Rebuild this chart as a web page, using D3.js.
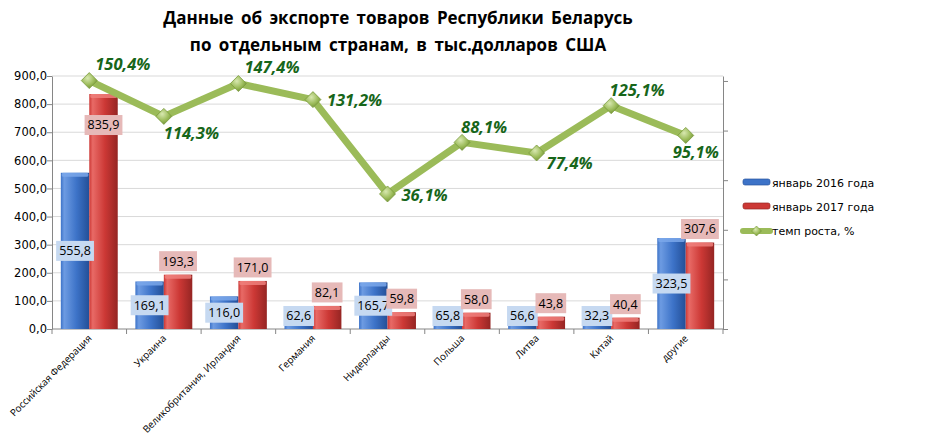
<!DOCTYPE html>
<html>
<head>
<meta charset="utf-8">
<script src="https://cdn.jsdelivr.net/npm/d3@7"></script>
<style>
  body { margin: 0; background: #fff; }
  svg { display: block; }
</style>
</head>
<body>
<div id="chart"></div>
<script>
// data
const countries = ["Российская Федерация", "Украина", "Великобритания, Ирландия", "Германия",
  "Нидерланды", "Польша", "Литва", "Китай", "другие"];
const jan2016 = [555.8, 169.1, 116.0, 62.6, 165.7, 65.8, 56.6, 32.3, 323.5];
const jan2017 = [835.9, 193.3, 171.0, 82.1, 59.8, 58.0, 43.8, 40.4, 307.6];
const growth = [150.4, 114.3, 147.4, 131.2, 36.1, 88.1, 77.4, 125.1, 95.1];
const seriesNames = ["январь 2016 года", "январь 2017 года", "темп роста, %"];
const leftTicks = [0, 100, 200, 300, 400, 500, 600, 700, 800, 900];
const rightTicks = [-100, -50, 0, 50, 100, 150];
// where each growth label sits relative to its marker
const labelPlace = ["aboveRight", "below", "aboveRight", "right", "right", "above", "belowRight", "above", "below"];

let width = 935, height = 442;
let margin = {top: 76, left: 52, right: 212, bottom: 113};
let plotW = width - margin.left - margin.right,
    plotH = height - margin.top - margin.bottom;

let svg = d3.select("#chart").append("svg")
    .attr("width", width)
    .attr("height", height);

let fmt = v => d3.format(".1f")(v).replace(".", ",");

// gradients for the bevelled bars
let defs = svg.append("defs");
function barGrad(id, light, mid, dark) {
    let g = defs.append("linearGradient").attr("id", id).attr("x1", 0).attr("x2", 1).attr("y1", 0).attr("y2", 0);
    g.append("stop").attr("offset", "0%").attr("stop-color", mid);
    g.append("stop").attr("offset", "12%").attr("stop-color", light);
    g.append("stop").attr("offset", "55%").attr("stop-color", mid);
    g.append("stop").attr("offset", "100%").attr("stop-color", dark);
}
barGrad("gBlue", "#6d9be2", "#3d73c8", "#234f97");
barGrad("gRed", "#e86a66", "#cc3835", "#952523");
let mg = defs.append("radialGradient").attr("id", "gMark").attr("cx", "40%").attr("cy", "35%").attr("r", "70%");
mg.append("stop").attr("offset", "0%").attr("stop-color", "#d8e8b0");
mg.append("stop").attr("offset", "60%").attr("stop-color", "#9bbb59");
mg.append("stop").attr("offset", "100%").attr("stop-color", "#6f8e35");

let g = svg.append("g").attr("transform", "translate(" + margin.left + "," + margin.top + ")");

let x = d3.scaleBand().domain(countries).range([0, plotW]);
let inner = d3.scaleBand().domain([0, 1]).range([0, x.bandwidth()]).paddingInner(0).paddingOuter(0.31);
let y = d3.scaleLinear().domain([0, 900]).range([plotH, 0]);
let y2 = d3.scaleLinear().domain([-100, 155]).range([plotH, 0]);

// gridlines
g.append("g").selectAll("line").data(leftTicks.slice(1)).join("line")
    .attr("x1", 0).attr("x2", plotW)
    .attr("y1", d => y(d)).attr("y2", d => y(d))
    .attr("stroke", "#d9d9d9").attr("stroke-width", 1);

// left axis
let yAxis = g.append("g")
    .call(d3.axisLeft(y).tickValues(leftTicks).tickFormat(fmt).tickSize(5).tickSizeOuter(0));
yAxis.select(".domain").attr("stroke", "#868686");
yAxis.selectAll(".tick line").attr("stroke", "#868686");
yAxis.selectAll("text").attr("font-family", "DejaVu Sans").attr("font-size", 11.5).attr("fill", "#000").attr("x", -5);

// right axis, no labels
let y2Axis = g.append("g").attr("transform", "translate(" + plotW + ",0)")
    .call(d3.axisRight(y2).tickValues(rightTicks).tickFormat("").tickSize(5).tickSizeOuter(0));
y2Axis.select(".domain").attr("stroke", "#868686");
y2Axis.selectAll(".tick line").attr("stroke", "#868686");

// bottom axis with ticks at category boundaries
g.append("line").attr("x1", 0).attr("x2", plotW).attr("y1", plotH).attr("y2", plotH).attr("stroke", "#868686");
g.append("g").selectAll("line").data(d3.range(countries.length + 1)).join("line")
    .attr("x1", i => i * x.step()).attr("x2", i => i * x.step())
    .attr("y1", plotH).attr("y2", plotH + 5)
    .attr("stroke", "#868686");
g.append("g").selectAll("text").data(countries).join("text")
    .attr("transform", d => "translate(" + (x(d) + x.bandwidth() / 2 + 3) + "," + (plotH + 10) + ") rotate(-45)")
    .attr("text-anchor", "end")
    .attr("font-family", "Open Sans").attr("font-size", 9.8)
    .attr("fill", "#000")
    .text(d => d);

// bars
let series = [
    {vals: jan2016, fill: "url(#gBlue)", cap: "#7aa7ea", idx: 0},
    {vals: jan2017, fill: "url(#gRed)", cap: "#ef7f7b", idx: 1}
];
series.forEach(s => {
    let bg = g.append("g");
    let bars = bg.selectAll("g").data(s.vals.map((v, i) => ({v, c: countries[i]}))).join("g")
        .attr("transform", d => "translate(" + (x(d.c) + inner(s.idx)) + ",0)");
    bars.append("rect")
        .attr("x", 0).attr("width", inner.bandwidth())
        .attr("y", d => y(d.v)).attr("height", d => plotH - y(d.v))
        .attr("fill", s.fill);
    bars.append("rect")
        .attr("x", 1).attr("width", inner.bandwidth() - 2)
        .attr("y", d => y(d.v)).attr("height", 4)
        .attr("rx", 1.5)
        .attr("fill", s.cap).attr("opacity", 0.85);
});

// bar data labels
function boxLabel(parent, cx, cy, text, bg) {
    let lg = parent.append("g");
    let t = lg.append("text")
        .attr("x", cx).attr("y", cy)
        .attr("text-anchor", "middle").attr("dy", "0.35em")
        .attr("font-family", "Open Sans").attr("font-size", 12.5)
        .attr("fill", "#000")
        .text(text);
    let b = t.node().getBBox();
    lg.insert("rect", "text")
        .attr("x", b.x - 3).attr("y", cy - 10)
        .attr("width", b.width + 6).attr("height", 20)
        .attr("fill", bg);
}
let labels = g.append("g");
jan2016.forEach((v, i) => {
    let cx = x(countries[i]) + inner(0) + inner.bandwidth() / 2;
    let cy = Math.min(y(v / 2), plotH - 13);
    boxLabel(labels, cx, cy, fmt(v), "#c6d9f1");
});
jan2017.forEach((v, i) => {
    let cx = x(countries[i]) + inner(1) + inner.bandwidth() / 2;
    let cy = y(v) - 13.5;
    if (cy - 10 < 10) cy = y(v) + 31;
    boxLabel(labels, cx, cy, fmt(v), "#e6b9b8");
});

// growth line
let pts = growth.map((v, i) => [x(countries[i]) + x.bandwidth() / 2, y2(v)]);
g.append("path")
    .attr("d", d3.line()(pts))
    .attr("fill", "none")
    .attr("stroke", "#9bbb59")
    .attr("stroke-width", 7)
    .attr("stroke-linejoin", "round");
g.append("g").selectAll("path").data(pts).join("path")
    .attr("transform", d => "translate(" + d[0] + "," + d[1] + ")")
    .attr("d", "M0,-8L8,0L0,8L-8,0Z")
    .attr("fill", "url(#gMark)")
    .attr("stroke", "#7a9a3c").attr("stroke-width", 0.8);

let offs = {
    aboveRight: {dx: 6, dy: -16, anchor: "start"},
    above: {dx: -1, dy: -15, anchor: "start"},
    right: {dx: 14, dy: 1, anchor: "start"},
    below: {dx: 0, dy: 17, anchor: "start"},
    belowRight: {dx: 10, dy: 10, anchor: "start"}
};
g.append("g").selectAll("text").data(growth).join("text")
    .each(function(v, i) {
        let o = offs[labelPlace[i]];
        let p = pts[i];
        let sx = o.dx, anchor = o.anchor;
        if (i === 7) { sx = 26; anchor = "middle"; }
        if (i === 8) { sx = -13; }
        d3.select(this)
            .attr("x", p[0] + sx).attr("y", p[1] + o.dy)
            .attr("text-anchor", anchor)
            .attr("dy", "0.35em");
    })
    .attr("font-family", "Open Sans").attr("font-size", 16.5)
    .attr("font-weight", "bold").attr("font-style", "italic")
    .attr("fill", "#17661a")
    .text(v => fmt(v) + "%");

// title
let title = svg.append("text")
    .attr("x", 398).attr("text-anchor", "middle")
    .attr("font-family", "Open Sans").attr("font-weight", "bold").attr("font-size", 17)
    .attr("word-spacing", 3)
    .attr("fill", "#000");
title.append("tspan").attr("x", 398).attr("y", 24).text("Данные об экспорте товаров Республики Беларусь");
title.append("tspan").attr("x", 398).attr("y", 51).text("по отдельным странам, в тыс.долларов США");

// legend
let legend = svg.append("g").attr("transform", "translate(743,182)");
let lrow = 24;
legend.append("rect").attr("x", 0).attr("y", -3).attr("width", 27).attr("height", 6).attr("rx", 2)
    .attr("fill", "#3d73c8").attr("stroke", "#2a559f").attr("stroke-width", 0.7);
legend.append("rect").attr("x", 0).attr("y", lrow - 3).attr("width", 27).attr("height", 6).attr("rx", 2)
    .attr("fill", "#cc3835").attr("stroke", "#952523").attr("stroke-width", 0.7);
legend.append("line").attr("x1", 0).attr("x2", 27).attr("y1", lrow * 2 + 1).attr("y2", lrow * 2 + 1)
    .attr("stroke", "#9bbb59").attr("stroke-width", 6).attr("stroke-linecap", "round");
legend.append("path").attr("transform", "translate(13.5," + (lrow * 2 + 1) + ")")
    .attr("d", "M0,-5L5,0L0,5L-5,0Z").attr("fill", "url(#gMark)").attr("stroke", "#7a9a3c").attr("stroke-width", 0.6);
legend.selectAll("text.lg").data(seriesNames).join("text")
    .attr("class", "lg")
    .attr("x", 29).attr("y", (d, i) => i * lrow + 1)
    .attr("dy", "0.35em")
    .attr("font-family", "DejaVu Sans").attr("font-size", 11)
    .attr("fill", "#000")
    .text(d => d);
</script>
</body>
</html>
